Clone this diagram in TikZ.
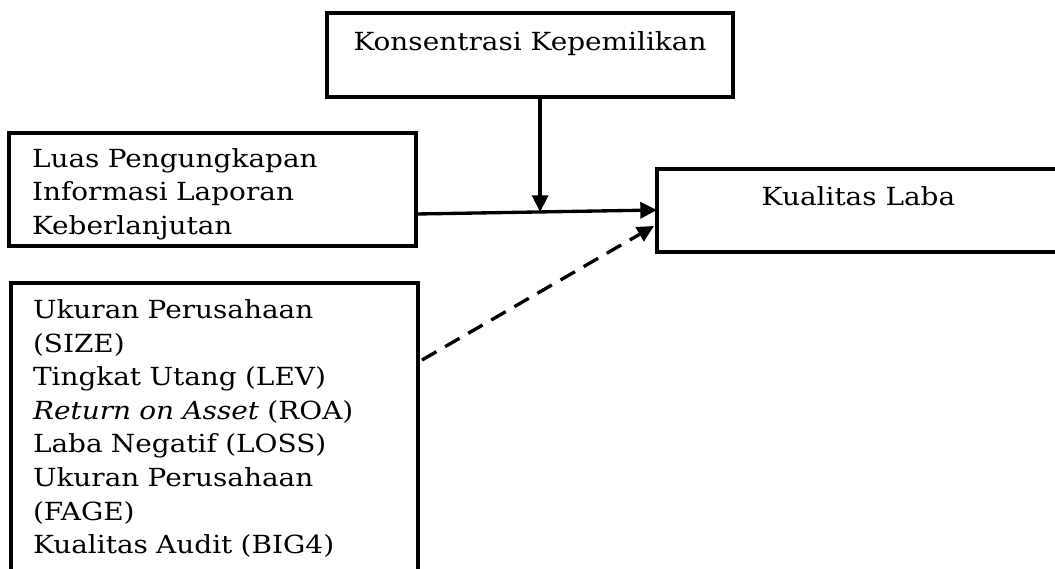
\documentclass[tikz,border=0pt]{standalone}
\usepackage{fontspec}
\setmainfont{DejaVu Serif}[FakeStretch=1.12]
\usetikzlibrary{arrows.meta,calc}
\tikzset{
  box/.style={draw, line width=2.7pt, rectangle, inner sep=0pt, outer sep=0pt,
    font=\fontsize{18.7}{25.2}\selectfont},
  conn/.style={line width=2.5pt, -{Triangle[length=12.5pt,width=12pt]}},
  dashconn/.style={conn, dash pattern=on 12.5pt off 7.5pt},
}
\begin{document}
\begin{tikzpicture}[x=0.75pt,y=-0.75pt]
\useasboundingbox (0,0) rectangle (1055,568);
\clip (0,0) rectangle (1055,568);

\node[box, minimum width=304.5pt, minimum height=63pt, text height=12.75pt, text depth=20.25pt]
  (km) at (530,55) {Konsentrasi Kepemilikan};

\node[box, minimum width=305.25pt, minimum height=84.75pt, inner xsep=17.25pt, text width=270.75pt, align=left]
  (lp) at (212.5,189.5) {\rule{0pt}{21pt}Luas Pengungkapan\\Informasi Laporan\\Keberlanjutan};

\node[box, minimum width=302.25pt, minimum height=62.25pt, text height=12.75pt, text depth=21pt]
  (kl) at (858.5,210.5) {Kualitas Laba};

\node[box, minimum width=305.25pt, minimum height=218.25pt, inner xsep=16.5pt, text width=272.25pt, align=left]
  (ctl) at (214.5,428.5) {Ukuran Perusahaan\\(SIZE)\\Tingkat Utang (LEV)\\\textit{Return on Asset} (ROA)\\Laba Negatif (LOSS)\\Ukuran Perusahaan\\(FAGE)\\Kualitas Audit (BIG4)};

\coordinate (a) at ($(lp.south east)+(0,-32)$);
\coordinate (b) at ($(kl.north west)+(0,41)$);
\draw[conn] (a) -- (b);
\coordinate (m) at ($(a)!0.515!(b)$);
\draw[conn] (km.south -| m) -- (m);
\coordinate (c) at ($(ctl.north east)+(4,77)$);
\coordinate (d) at ($(kl.north west)+(-3,57)$);
\draw[dashconn] (c) -- (d);
\end{tikzpicture}
\end{document}
